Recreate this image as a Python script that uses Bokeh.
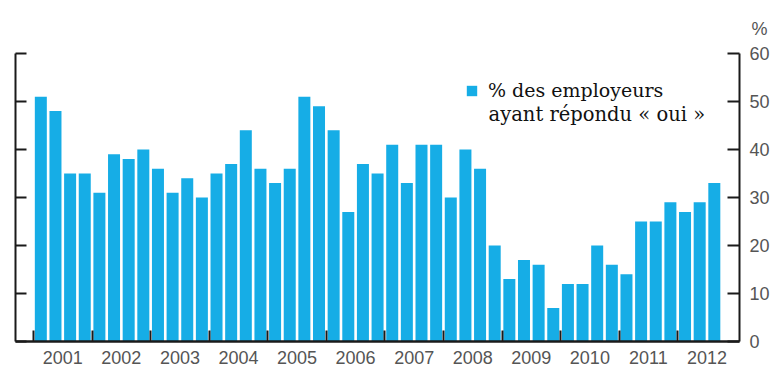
from bokeh.plotting import figure
from bokeh.models import (LinearAxis, FixedTicker, Range1d, Legend, LegendItem, Label, Title)
from bokeh.embed import file_html
from bokeh.resources import INLINE
import numpy as np

years = ["2001", "2002", "2003", "2004", "2005", "2006", "2007", "2008", "2009", "2010", "2011", "2012"]
values = [51, 48, 35, 35,
          31, 39, 38, 40,
          36, 31, 34, 30,
          35, 37, 44, 36,
          33, 36, 51, 49,
          44, 27, 37, 35,
          41, 33, 41, 41,
          30, 40, 36, 20,
          13, 17, 16, 7,
          12, 12, 20, 16,
          14, 25, 25, 29,
          27, 29, 33]
y_ticks = [0, 10, 20, 30, 40, 50, 60]
legend_line1 = "% des employeurs"
legend_line2 = "ayant répondu « oui »"
unit_label = "%"

BAR = "#16ade6"
AXIS = "#1a1a1a"
TXT = "#555555"

xs = np.arange(len(values)) + 0.5

p = figure(width=773, height=373, output_backend="svg", toolbar_location=None,
           x_range=Range1d(-1.23, 48.22), y_range=Range1d(0, 60),
           x_axis_location=None, y_axis_location=None,
           min_border_left=15, min_border_right=34, min_border_top=53, min_border_bottom=32)
p.grid.visible = False
p.outline_line_color = None
p.background_fill_color = "white"
p.border_fill_color = "white"

r = p.vbar(x=xs, top=values, width=0.82, bottom=0, fill_color=BAR, line_color=None)

# left axis (ticks only, drawn as minor ticks so no labels are produced)
la = LinearAxis(ticker=FixedTicker(ticks=[], minor_ticks=y_ticks),
                major_tick_in=0, major_tick_out=0,
                minor_tick_in=11, minor_tick_out=0, minor_tick_line_width=2,
                minor_tick_line_color=AXIS, axis_line_width=2, axis_line_color=AXIS,
                major_label_standoff=0)
p.add_layout(la, "left")

# right axis
ra = LinearAxis(ticker=FixedTicker(ticks=y_ticks, minor_ticks=[]),
                major_tick_in=12, major_tick_out=0, major_tick_line_width=2,
                major_tick_line_color=AXIS, axis_line_width=2, axis_line_color=AXIS,
                major_label_text_font="Liberation Sans", major_label_text_font_size="18px",
                major_label_text_color=TXT, major_label_standoff=10)
p.add_layout(ra, "right")

# bottom axis: year ticks between years, labels centered
centers = [4 * i + 2 for i in range(len(years))]
bounds = [4 * i for i in range(len(years))]
ba = LinearAxis(ticker=FixedTicker(ticks=centers, minor_ticks=bounds),
                major_tick_in=0, major_tick_out=0,
                minor_tick_in=11, minor_tick_out=0, minor_tick_line_width=2,
                minor_tick_line_color=AXIS, axis_line_width=2.5, axis_line_color=AXIS,
                major_label_overrides={c: y for c, y in zip(centers, years)},
                major_label_text_font="Liberation Sans", major_label_text_font_size="18px",
                major_label_text_color=TXT, major_label_standoff=9)
p.add_layout(ba, "below")

legend = Legend(items=[LegendItem(label=legend_line1, renderers=[r])],
                location=(450, 240), padding=0, margin=0, spacing=0,
                glyph_width=13, glyph_height=13, label_height=13, label_standoff=10,
                label_text_font="DejaVu Serif", label_text_font_size="19px",
                label_text_color="#111111", background_fill_alpha=0,
                border_line_color=None)
p.add_layout(legend, "center")

p.add_layout(Label(x=31.08, y=47.3, text=legend_line2, text_font="DejaVu Serif",
                   text_font_size="19.5px", text_color="#111111", text_baseline="middle"))

p.add_layout(Title(text=unit_label, align="right", offset=-28, standoff=30,
                   text_font="Liberation Sans", text_font_size="18px",
                   text_color=TXT, text_font_style="normal"), "above")

open("out.html", "w").write(file_html(p, INLINE))
